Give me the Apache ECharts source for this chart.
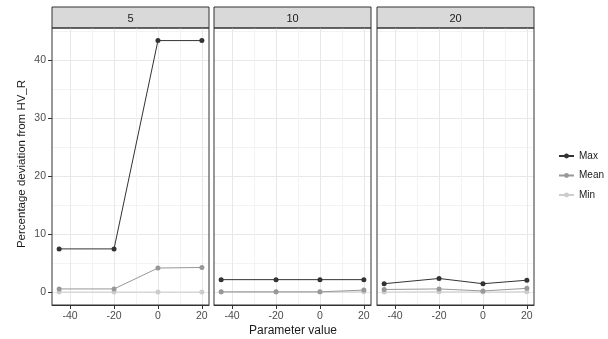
<!DOCTYPE html>
<html><head><meta charset="utf-8">
<script src="https://cdn.jsdelivr.net/npm/echarts@6/dist/echarts.min.js"></script>
<style>html,body{margin:0;padding:0;background:#fff}#c{width:608px;height:339px}</style>
</head><body><div id="c"></div>
<script>
// ---- data ----
const facets = ['5', '10', '20'];
const paramValues = [-45, -20, 0, 20];
const seriesNames = ['Max', 'Mean', 'Min'];
const max5 = [7.5, 7.5, 43.4, 43.4];
const mean5 = [0.6, 0.6, 4.2, 4.3];
const min5 = [0.05, 0.05, 0.05, 0.05];
const max10 = [2.2, 2.2, 2.2, 2.2];
const mean10 = [0.1, 0.1, 0.1, 0.4];
const min10 = [0.05, 0.05, 0.05, 0.1];
const max20 = [1.5, 2.4, 1.5, 2.1];
const mean20 = [0.5, 0.6, 0.25, 0.7];
const min20 = [0.05, 0.1, 0.05, 0.1];
const xTicks = [-40, -20, 0, 20];
const xMinor = [-30, -10, 10];
const yTicks = [0, 10, 20, 30, 40];
const yMinor = [5, 15, 25, 35, 45];
const xTitle = 'Parameter value';
const yTitle = 'Percentage deviation from HV_R';

// ---- layout ----
const panelLeft = [52, 214, 377];
const panelWidth = 157;
const panelTop = 28, panelHeight = 277, stripTop = 7, stripH = 21;
const xRange = [-48.25, 23.25];
const yRange = [-2.17, 45.57];
const colors = {Max: '#333333', Mean: '#989898', Min: '#cccccc'};
const font = 'Liberation Sans, Arial, sans-serif';
const values = [[max5, mean5, min5], [max10, mean10, min10], [max20, mean20, min20]];

const grid = [], xAxis = [], yAxis = [], series = [], graphic = [];
facets.forEach((f, i) => {
  grid.push({left: panelLeft[i], top: panelTop, width: panelWidth, height: panelHeight,
    outerBoundsMode: 'none', containLabel: false,
    show: true, borderColor: '#333333', borderWidth: 1, backgroundColor: 'transparent', z: 3});
  graphic.push({type: 'rect', x: panelLeft[i], y: stripTop,
    shape: {x: 0, y: 0, width: panelWidth, height: stripH},
    style: {fill: '#d9d9d9', stroke: '#333333', lineWidth: 1}});
  graphic.push({type: 'text', x: panelLeft[i] + panelWidth / 2, y: stripTop + stripH / 2 + 1,
    style: {text: f, align: 'center', verticalAlign: 'middle', fill: '#1a1a1a', font: '11px ' + font}});
});
graphic.push({type: 'text', x: 293, y: 331,
  style: {text: xTitle, align: 'center', verticalAlign: 'middle', fill: '#1a1a1a', font: '12px ' + font}});
graphic.push({type: 'text', x: 22, y: 164, rotation: Math.PI / 2,
  style: {text: yTitle, align: 'center', verticalAlign: 'middle', fill: '#1a1a1a', font: '11.5px ' + font}});

facets.forEach((f, i) => {
  xAxis.push({type: 'value', gridIndex: i, min: xRange[0], max: xRange[1], position: 'bottom',
    axisLine: {show: true, onZero: false, lineStyle: {color: '#333333'}},
    axisTick: {show: true, length: 4, lineStyle: {color: '#333333'}, customValues: xTicks},
    axisLabel: {show: true, customValues: xTicks, margin: 6, color: '#4d4d4d', fontSize: 10.5, fontFamily: font},
    splitLine: {show: true, lineStyle: {color: '#e8e8e8', width: 1}}});
  yAxis.push({type: 'value', gridIndex: i, min: yRange[0], max: yRange[1], position: 'left',
    axisLine: {show: false, onZero: false},
    axisTick: {show: i === 0, length: 4, lineStyle: {color: '#333333'}, customValues: yTicks},
    axisLabel: {show: i === 0, customValues: yTicks, margin: 6, color: '#4d4d4d', fontSize: 10.5, fontFamily: font},
    splitLine: {show: true, lineStyle: {color: '#e8e8e8', width: 1}}});
});
facets.forEach((f, i) => {
  xAxis.push({type: 'value', gridIndex: i, min: xRange[0], max: xRange[1], position: 'bottom',
    axisLine: {show: false, onZero: false}, axisTick: {show: false, customValues: xMinor},
    axisLabel: {show: false, customValues: xMinor},
    splitLine: {show: true, lineStyle: {color: '#f3f3f3', width: 1}}});
  yAxis.push({type: 'value', gridIndex: i, min: yRange[0], max: yRange[1], position: 'left',
    axisLine: {show: false, onZero: false}, axisTick: {show: false, customValues: yMinor},
    axisLabel: {show: false, customValues: yMinor},
    splitLine: {show: true, lineStyle: {color: '#f3f3f3', width: 1}}});
});
facets.forEach((f, i) => {
  seriesNames.forEach((name, k) => {
    series.push({type: 'line', name: name, xAxisIndex: i, yAxisIndex: i,
      data: paramValues.map((x, j) => [x, values[i][k][j]]),
      symbol: 'circle', symbolSize: 5, showSymbol: true,
      color: colors[name], lineStyle: {width: 1, color: colors[name]},
      itemStyle: {color: colors[name]}, z: 5 + (2 - k), animation: false});
  });
});

const chart = echarts.init(document.getElementById('c'), null, {renderer: 'canvas'});
chart.setOption({
  animation: false,
  backgroundColor: '#ffffff',
  grid, xAxis, yAxis, series, graphic,
  legend: {data: seriesNames, orient: 'vertical', left: 553, top: 146,
    itemWidth: 15, itemHeight: 6, itemGap: 9.5,
    textStyle: {color: '#1a1a1a', fontSize: 10, fontFamily: font}}
});
</script></body></html>
